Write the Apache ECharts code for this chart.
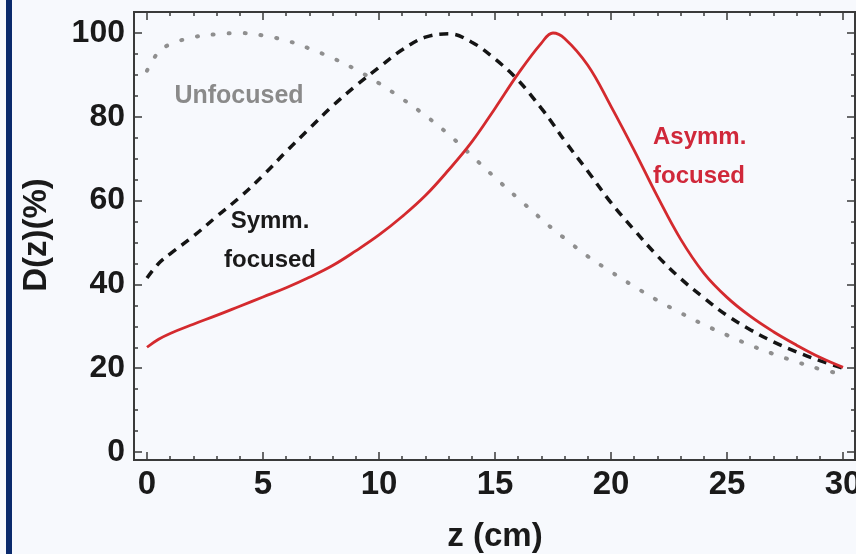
<!DOCTYPE html>
<html>
<head>
<meta charset="utf-8">
<script src="https://cdn.jsdelivr.net/npm/echarts@6/dist/echarts.min.js"></script>
<style>
html, body { margin: 0; padding: 0; background: #f7f9fd; }
#graphic-dz { width: 856px; height: 554px; }
</style>
</head>
<body>
<div id="graphic-dz"></div>
<script>
// Données : z en cm, D(z) en %
const zValues = [0, 0.5, 1, 2, 3, 4, 5, 6, 7, 8, 9, 10, 11, 12, 13, 14, 15, 16, 17, 17.5, 18, 19, 20, 21, 22, 23, 24, 25, 26, 27, 28, 29, 30];
const unfocused = [91, 95.5, 97.3, 99, 99.7, 100, 99.4, 98.2, 96.3, 94, 91.3, 88, 84.3, 80.3, 75.8, 70.7, 65.5, 60.5, 55.6, 53.2, 51, 46.7, 43, 39.5, 36.2, 33.2, 30.4, 27.9, 25.5, 23.4, 21.5, 19.8, 18.5];
const symmFocused = [41.5, 45, 47.3, 51.5, 56.2, 60.8, 66, 71.7, 77.2, 82.6, 87.4, 91.8, 96, 99, 99.8, 97.8, 93.8, 88.7, 82, 78.3, 74.3, 67, 59.5, 53, 46.8, 41.4, 36.8, 32.6, 29.2, 26.3, 23.9, 21.8, 20];
const asymmFocused = [25, 26.9, 28.3, 30.5, 32.6, 34.8, 37, 39.2, 41.7, 44.5, 48, 51.8, 56.2, 61.2, 67.3, 74, 82, 90.3, 97.6, 100, 98.7, 92.3, 82.5, 72, 61, 50.8, 42.7, 36.9, 32.4, 28.7, 25.5, 22.6, 20.2];
const xTickStep = 5;
const yTickStep = 20;

const FONT = '"Liberation Sans", Arial, sans-serif';
const AXIS_COLOR = '#3a3a3a';

function pairs(ys) {
    return zValues.map((z, i) => [z, ys[i]]);
}

function frameAxis(extra) {
    return Object.assign({
        type: 'value',
        axisLine: { show: true, onZero: false, lineStyle: { color: AXIS_COLOR, width: 2 } },
        axisTick: { show: true, inside: true, length: 8, lineStyle: { color: AXIS_COLOR, width: 1.5 } },
        splitLine: { show: false },
        axisLabel: { show: false }
    }, extra);
}

function minor(n) {
    return { show: true, splitNumber: n, length: 4, lineStyle: { color: AXIS_COLOR, width: 1.5 } };
}

const labelStyle = { color: '#1a1a1a', fontFamily: FONT, fontWeight: 'bold' };

const chart = echarts.init(document.getElementById('graphic-dz'), null, { renderer: 'canvas' });

const option = {
    backgroundColor: '#f7f9fd',
    animation: false,
    grid: { left: 147, right: 13, top: 33, bottom: 102, containLabel: false, outerBoundsMode: 'none' },
    xAxis: [
        frameAxis({
            position: 'bottom', min: 0, max: 30, interval: xTickStep, offset: 8,
            minorTick: minor(5),
            axisLabel: Object.assign({ show: true, fontSize: 33, margin: 8 }, labelStyle),
            name: 'z (cm)', nameLocation: 'middle', nameGap: 60,
            nameTextStyle: Object.assign({ fontSize: 33 }, labelStyle)
        }),
        frameAxis({
            position: 'top', min: 0, max: 30, interval: xTickStep, offset: 21,
            minorTick: minor(5)
        })
    ],
    yAxis: [
        frameAxis({
            position: 'left', min: 0, max: 100, interval: yTickStep, offset: 13,
            minorTick: minor(4),
            axisLabel: Object.assign({ show: true, fontSize: 32, margin: 9 }, labelStyle)
        }),
        frameAxis({
            position: 'right', min: 0, max: 100, interval: yTickStep, offset: 12,
            minorTick: minor(4)
        })
    ],
    series: [
        {
            name: 'Unfocused', type: 'line', data: pairs(unfocused), smooth: 0.4,
            showSymbol: false, clip: false,
            lineStyle: { color: '#8f8f8f', width: 4, type: [1, 15], cap: 'round' }
        },
        {
            name: 'Symm. focused', type: 'line', data: pairs(symmFocused), smooth: 0.4,
            showSymbol: false, clip: false,
            lineStyle: { color: '#141414', width: 3.5, type: [9, 7] }
        },
        {
            name: 'Asymm. focused', type: 'line', data: pairs(asymmFocused), smooth: 0.4,
            showSymbol: false, clip: false,
            lineStyle: { color: '#d42a2e', width: 2.8 }
        }
    ],
    graphic: [
        // bande bleue à gauche
        { type: 'rect', shape: { x: 6, y: 0, width: 6, height: 554 }, style: { fill: '#0a2a6c' } },
        // cadre complet
        { type: 'rect', shape: { x: 134, y: 12, width: 721, height: 448 }, style: { fill: 'none', stroke: AXIS_COLOR, lineWidth: 2 }, z: 10 },
        { type: 'text', x: 37, y: 235, rotation: Math.PI / 2,
          style: { text: 'D(z)(%)', fill: '#1a1a1a', font: 'bold 33px ' + FONT, align: 'center', verticalAlign: 'middle' } },
        { type: 'text', x: 239, y: 96,
          style: { text: 'Unfocused', fill: '#8a8a8a', font: 'bold 25px ' + FONT, align: 'center', verticalAlign: 'middle' } },
        { type: 'text', x: 270, y: 221,
          style: { text: 'Symm.', fill: '#1a1a1a', font: 'bold 24px ' + FONT, align: 'center', verticalAlign: 'middle' } },
        { type: 'text', x: 270, y: 260,
          style: { text: 'focused', fill: '#1a1a1a', font: 'bold 24px ' + FONT, align: 'center', verticalAlign: 'middle' } },
        { type: 'text', x: 653, y: 137,
          style: { text: 'Asymm.', fill: '#d0283a', font: 'bold 24px ' + FONT, align: 'left', verticalAlign: 'middle' } },
        { type: 'text', x: 653, y: 176,
          style: { text: 'focused', fill: '#d0283a', font: 'bold 24px ' + FONT, align: 'left', verticalAlign: 'middle' } }
    ]
};

chart.setOption(option);
window.addEventListener('resize', chart.resize);
</script>
</body>
</html>
